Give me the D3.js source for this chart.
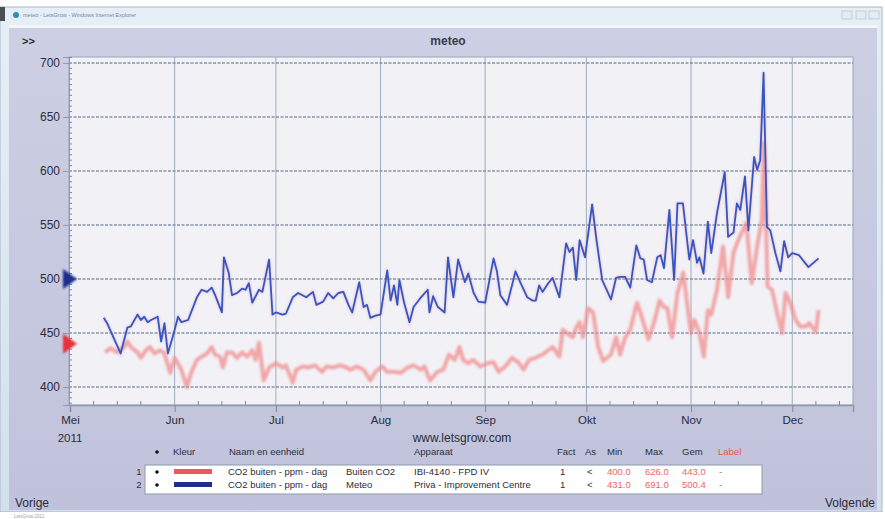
<!DOCTYPE html>
<html>
<head>
<meta charset="utf-8">
<script src="https://cdn.jsdelivr.net/npm/d3@7"></script>
<style>
	html, body { margin: 0; padding: 0; background: #ffffff; }
	svg { display: block; font-family: 'Liberation Sans', Arial, sans-serif; }
</style>
</head>
<body>
<svg id="chart" width="885" height="519"></svg>
<script>
// day offsets are counted from 1 May 2011
const startDate = new Date(2011, 4, 1);
const endDate = new Date(2011, 11, 19);

const monthLabels = ['Mei', 'Jun', 'Jul', 'Aug', 'Sep', 'Okt', 'Nov', 'Dec'];
const yTicks = [400, 450, 500, 550, 600, 650, 700];

// CO2 buiten - Buiten CO2 (red)
const redDay = [10.4, 12, 14, 16, 17, 18, 20, 21, 22.5, 23.7, 25, 26.7, 28, 29.7, 31, 33, 34.6, 36, 37.6, 39,
	40.6, 42, 43, 44.5, 45.3, 46.5, 48, 49.5, 51, 52.5, 54, 55, 56, 57.4, 59, 61, 63, 64, 66, 67,
	69, 70.6, 72.6, 74.7, 76, 78, 80, 82, 83, 85, 87, 89, 90.5, 92.5, 94, 96, 98, 100, 101.8, 104,
	105, 106.7, 108.8, 110.6, 112.3, 114, 115.4, 116.5, 118, 119.5, 121.6, 123.6, 125.5, 127, 129, 131, 132.8, 134.4, 136, 138,
	140, 141.7, 143, 145, 146, 148, 149, 150, 151, 152, 153.5, 155, 156.5, 158, 160.3, 161.8, 163, 164.5, 166, 168,
	169.5, 171.4, 173, 174.7, 176, 177, 178.4, 180, 181.7, 183, 184, 185, 186.5, 187.8, 189, 190, 191.7, 193.5, 195, 196.6,
	198, 200.4, 202, 203.6, 205, 205.6, 206.7, 208, 209.5, 211, 212, 213.4, 215, 216.4, 218, 219, 221, 221.8];
const redVal = [432, 436, 432, 437, 442, 437, 432, 427, 434, 437, 431, 434, 431, 413, 427, 416, 400, 414, 425, 428,
	431, 437, 430, 428, 418, 432, 432, 427, 432, 428, 434, 425, 441, 406, 418, 422, 418, 420, 404, 416,
	419, 418, 420, 414, 419, 418, 420, 418, 416, 419, 416, 406, 414, 419, 414, 414, 413, 418, 420, 416,
	419, 406, 414, 416, 430, 425, 437, 425, 422, 425, 419, 422, 423, 414, 419, 427, 423, 416, 425, 427,
	430, 434, 437, 428, 453, 448, 446, 455, 460, 446, 473, 469, 437, 424, 430, 446, 430, 446, 453, 478,
	464, 444, 459, 480, 474, 473, 446, 487, 506, 474, 450, 462, 450, 428, 471, 467, 490, 530, 483, 524,
	536, 552, 496, 530, 555, 626, 493, 490, 469, 450, 487, 478, 462, 456, 456, 459, 451, 471];

// CO2 buiten - Meteo (blue)
const blueDay = [10, 11, 13, 15, 16, 17, 18, 20, 21, 22, 23, 24, 26, 27, 28, 29, 30.6, 32, 33, 35,
	37.6, 39, 40.6, 42, 43, 45, 45.6, 47, 48, 49.5, 51, 52, 53, 54, 56, 57, 59, 60, 61, 63,
	64, 66, 67.6, 70, 72, 73, 75, 76.5, 78, 79.5, 81, 82.5, 83.6, 85.7, 87, 88, 89, 90.5, 92, 94,
	95, 96, 97, 97.6, 99, 100.6, 101.8, 104, 106, 106.5, 107.6, 109, 111, 112, 113.6, 115, 117, 118, 119.6, 121,
	123, 125.5, 126.5, 127.5, 129.5, 132, 133.4, 135.5, 137, 138, 139, 140, 141.7, 143, 145, 147, 148, 149, 150, 151,
	152.6, 154.7, 156, 157.7, 160.3, 161.8, 163, 164.5, 166, 167.8, 169, 170, 171, 172.4, 174, 175, 176, 177.6, 179, 180,
	181.6, 183.5, 184.6, 185.8, 186.5, 187.7, 189, 190, 191.7, 194, 195, 196.6, 197.6, 198.6, 200, 201, 202.7, 203.6, 204.5, 205.5,
	206.5, 207.5, 209, 210.5, 211.6, 212.8, 214, 216, 218.8, 221.8];
const blueVal = [464, 459, 445, 431, 443, 455, 456, 467, 462, 465, 460, 462, 465, 442, 459, 431, 448, 465, 460, 462,
	483, 490, 488, 492, 485, 469, 520, 506, 485, 487, 491, 490, 496, 478, 490, 488, 518, 467, 469, 467,
	468, 483, 487, 483, 488, 476, 479, 487, 482, 487, 488, 476, 469, 497, 474, 476, 464, 466, 467, 508,
	480, 494, 476, 499, 478, 460, 474, 483, 490, 469, 484, 474, 469, 520, 483, 518, 497, 505, 487, 479,
	478, 519, 507, 485, 476, 507, 497, 483, 480, 480, 494, 488, 496, 501, 483, 533, 525, 529, 499, 536,
	520, 569, 536, 499, 481, 501, 502, 502, 492, 531, 519, 518, 499, 497, 520, 522, 510, 564, 499, 570,
	570, 518, 536, 515, 520, 505, 553, 524, 561, 599, 539, 543, 570, 564, 595, 545, 613, 601, 610, 691,
	548, 545, 524, 507, 535, 520, 524, 522, 511, 519];

const legendHeader = ['Kleur', 'Naam en eenheid', 'Apparaat', 'Fact', 'As', 'Min', 'Max', 'Gem', 'Label'];
const seriesNames = ['CO2 buiten - ppm - dag', 'CO2 buiten - ppm - dag'];
const seriesLocations = ['Buiten CO2', 'Meteo'];
const seriesDevices = ['IBI-4140 - FPD IV', 'Priva - Improvement Centre'];
const seriesMarkers = [440, 500];

const colors = {
	panel: '#c6c9df',
	plot: '#f1f1f6',
	grid: '#7a8aa3',
	text: '#2b2d3a',
	red: '#f28d8d',
	redMark: '#e8303a',
	blue: '#3456c2',
	blueMark: '#1c2f8e'
};

const svg = d3.select('#chart');
const defs = svg.append('defs');

defs.append('filter').attr('id', 'soft')
	.append('feGaussianBlur').attr('stdDeviation', 0.9);

const titleGrad = defs.append('linearGradient').attr('id', 'titleGrad')
	.attr('x1', '0%').attr('x2', '0%').attr('y1', '0%').attr('y2', '100%');
titleGrad.append('stop').attr('offset', '0%').attr('stop-color', '#e6eff7');
titleGrad.append('stop').attr('offset', '100%').attr('stop-color', '#d2e0ec');

const panelGrad = defs.append('linearGradient').attr('id', 'panelGrad')
	.attr('x1', '0%').attr('x2', '0%').attr('y1', '0%').attr('y2', '100%');
panelGrad.append('stop').attr('offset', '0%').attr('stop-color', '#cdd0e4');
panelGrad.append('stop').attr('offset', '100%').attr('stop-color', '#bfc2da');

// window chrome
svg.append('rect').attr('x', 0).attr('y', 7).attr('width', 882).attr('height', 505)
	.attr('fill', 'url(#titleGrad)').attr('stroke', '#a9b6c4');
svg.append('rect').attr('x', 0).attr('y', 7).attr('width', 5).attr('height', 14).attr('fill', '#4a4f56');
svg.append('circle').attr('cx', 16).attr('cy', 15).attr('r', 3).attr('fill', '#2a8fb5');
svg.append('text').attr('x', 23).attr('y', 17).attr('font-size', 5.5).attr('fill', '#7a8798')
	.text('meteo - LetsGrow - Windows Internet Explorer');
[842, 856, 869].forEach(x => {
	svg.append('rect').attr('x', x).attr('y', 11).attr('width', 10).attr('height', 8)
		.attr('fill', '#e4ecf3').attr('stroke', '#c3ccd6');
});
svg.append('rect').attr('x', 9).attr('y', 25).attr('width', 868).attr('height', 3).attr('fill', '#f4f6fa');
svg.append('rect').attr('x', 9).attr('y', 28).attr('width', 868).attr('height', 482)
	.attr('fill', 'url(#panelGrad)');
svg.append('rect').attr('x', 0).attr('y', 512).attr('width', 885).attr('height', 7).attr('fill', '#ffffff');
svg.append('text').attr('x', 14).attr('y', 518).attr('font-size', 4.5).attr('fill', '#9aa0aa')
	.text('LetsGrow 2011');

svg.append('text').attr('x', 22).attr('y', 45).attr('font-size', 11).attr('font-weight', 'bold')
	.attr('fill', colors.text).text('>>');
svg.append('text').attr('x', 448).attr('y', 45).attr('text-anchor', 'middle')
	.attr('font-size', 12).attr('font-weight', 'bold').attr('fill', '#3a3c4c').text('meteo');

// plot
const plot = { left: 69, right: 853, top: 57, bottom: 405 };

const x = d3.scaleTime()
	.domain([startDate, endDate])
	.range([plot.left + 1, plot.right]);

const y = d3.scaleLinear()
	.domain([383.3, 705.5])
	.range([plot.bottom, plot.top]);

const dayToDate = d => new Date(startDate.getTime() + d * 864e5);

svg.append('rect')
	.attr('x', plot.left).attr('y', plot.top)
	.attr('width', plot.right - plot.left).attr('height', plot.bottom - plot.top)
	.attr('fill', colors.plot).attr('stroke', '#9aa6bb');

const grid = svg.append('g').attr('class', 'grid');

const monthStarts = d3.timeMonth.range(startDate, endDate);

grid.selectAll('.vgrid')
	.data(monthStarts.slice(1))
	.enter()
	.append('line')
	.attr('class', 'vgrid')
	.attr('x1', d => x(d)).attr('x2', d => x(d))
	.attr('y1', plot.top).attr('y2', plot.bottom)
	.attr('stroke', '#9fadc0')
	.attr('stroke-width', 1);

grid.selectAll('.hgrid')
	.data(yTicks)
	.enter()
	.append('line')
	.attr('class', 'hgrid')
	.attr('x1', plot.left).attr('x2', plot.right)
	.attr('y1', d => y(d)).attr('y2', d => y(d))
	.attr('stroke', colors.grid)
	.attr('stroke-width', 1.4)
	.attr('stroke-dasharray', '3,1.5')
	.attr('opacity', 0.9);

// y axis
const yAxis = d3.axisLeft(y)
	.tickValues(yTicks)
	.tickSize(6)
	.tickPadding(3);

const Yaxis = svg.append('g')
	.attr('transform', `translate(${plot.left},0)`)
	.call(yAxis);

Yaxis.select('.domain').attr('stroke', '#8d99ae');
Yaxis.selectAll('.tick line').attr('stroke', '#8d99ae');
Yaxis.selectAll('.tick text')
	.attr('fill', colors.text)
	.attr('font-size', 12)
	.attr('font-family', "'Liberation Sans', Arial, sans-serif");

const minorY = d3.range(385, 706, 5).filter(v => v % 50 !== 0);
svg.append('g').selectAll('line')
	.data(minorY)
	.enter()
	.append('line')
	.attr('x1', plot.left).attr('x2', plot.left + 3)
	.attr('y1', d => y(d)).attr('y2', d => y(d))
	.attr('stroke', '#7d8aa0');

// x axis
const xAxis = d3.axisBottom(x)
	.tickValues(monthStarts)
	.tickSize(7)
	.tickPadding(4)
	.tickFormat((d, i) => monthLabels[i]);

const Xaxis = svg.append('g')
	.attr('transform', `translate(0,${plot.bottom})`)
	.call(xAxis);

Xaxis.select('.domain').attr('stroke', '#8d99ae').attr('stroke-width', 1.5);
Xaxis.selectAll('.tick line').attr('stroke', '#7d8aa0');
Xaxis.selectAll('.tick text')
	.attr('fill', colors.text)
	.attr('font-size', 11.5)
	.attr('font-family', "'Liberation Sans', Arial, sans-serif");

const minorX = [];
monthStarts.forEach(m => [7, 14, 21].forEach(k => {
	const d = d3.timeDay.offset(m, k);
	if (d < endDate) minorX.push(d);
}));
svg.append('g').selectAll('line')
	.data(minorX)
	.enter()
	.append('line')
	.attr('x1', d => x(d)).attr('x2', d => x(d))
	.attr('y1', plot.bottom).attr('y2', plot.bottom - 4)
	.attr('stroke', '#7d8aa0');

svg.append('text').attr('x', x(startDate)).attr('y', 442).attr('text-anchor', 'middle')
	.attr('font-size', 11.5).attr('fill', colors.text).text('2011');
svg.append('text').attr('x', 462).attr('y', 442).attr('text-anchor', 'middle')
	.attr('font-size', 12).attr('fill', colors.text).text('www.letsgrow.com');

// lines
const line = d3.line()
	.x(d => x(dayToDate(d[0])))
	.y(d => y(d[1]));

const redData = d3.zip(redDay, redVal);
const blueData = d3.zip(blueDay, blueVal);

const lines = svg.append('g').attr('class', 'linesGroup');

lines.append('path')
	.datum(redData)
	.attr('fill', 'none')
	.attr('stroke', colors.red)
	.attr('stroke-width', 4)
	.attr('stroke-linejoin', 'round')
	.attr('opacity', 0.75)
	.attr('filter', 'url(#soft)')
	.attr('d', line);

lines.append('path')
	.datum(blueData)
	.attr('fill', 'none')
	.attr('stroke', '#e68aa6')
	.attr('stroke-width', 3)
	.attr('opacity', 0.35)
	.attr('filter', 'url(#soft)')
	.attr('d', line);

lines.append('path')
	.datum(blueData)
	.attr('fill', 'none')
	.attr('stroke', colors.blue)
	.attr('stroke-width', 1.8)
	.attr('stroke-linejoin', 'round')
	.attr('d', line);

// current value markers on the left axis
const markerColors = [colors.redMark, colors.blueMark];
svg.append('g').selectAll('path')
	.data(seriesMarkers)
	.enter()
	.append('path')
	.attr('d', d => `M${plot.left - 6},${y(d) - 10}L${plot.left + 8},${y(d)}L${plot.left - 6},${y(d) + 10}Z`)
	.attr('fill', (d, i) => markerColors[i])
	.attr('filter', 'url(#soft)');

// legend table
const legend = svg.append('g').attr('class', 'legend').attr('font-size', 9.5).attr('fill', colors.text);
const headerX = [173, 229, 414, 557, 585, 607, 645, 682, 718];

legend.append('circle').attr('cx', 157).attr('cy', 452).attr('r', 1.8).attr('fill', '#111');
legend.selectAll('.hdr')
	.data(legendHeader)
	.enter()
	.append('text')
	.attr('class', 'hdr')
	.attr('x', (d, i) => headerX[i])
	.attr('y', 455)
	.attr('fill', (d, i) => i === legendHeader.length - 1 ? '#e8584f' : colors.text)
	.text(d => d);

legend.append('rect').attr('x', 145).attr('y', 465).attr('width', 617).attr('height', 29)
	.attr('fill', '#ffffff').attr('stroke', '#8d99ae');

const fmt = d3.format('.1f');
const stats = [redVal, blueVal].map(v => [d3.min(v), d3.max(v), d3.mean(v)].map(fmt));
const swatch = [colors.redMark, colors.blueMark];

seriesNames.forEach((name, i) => {
	const ry = 475 + i * 13;
	const row = legend.append('g');
	row.append('text').attr('x', 139).attr('y', ry).attr('text-anchor', 'middle').text(i + 1);
	row.append('circle').attr('cx', 157).attr('cy', ry - 3).attr('r', 1.8).attr('fill', '#111');
	row.append('rect').attr('x', 174).attr('y', ry - 6).attr('width', 38).attr('height', 5)
		.attr('fill', swatch[i]).attr('opacity', i === 0 ? 0.8 : 1);
	row.append('text').attr('x', 228).attr('y', ry).text(name);
	row.append('text').attr('x', 346).attr('y', ry).text(seriesLocations[i]);
	row.append('text').attr('x', 414).attr('y', ry).text(seriesDevices[i]);
	row.append('text').attr('x', 560).attr('y', ry).text('1');
	row.append('text').attr('x', 587).attr('y', ry).text('<');
	row.append('text').attr('x', 607).attr('y', ry).attr('fill', '#f0665e').text(stats[i][0]);
	row.append('text').attr('x', 645).attr('y', ry).attr('fill', '#f0665e').text(stats[i][1]);
	row.append('text').attr('x', 682).attr('y', ry).attr('fill', '#f0665e').text(stats[i][2]);
	row.append('text').attr('x', 719).attr('y', ry).attr('fill', '#3b8be0').text('-');
});

svg.append('text').attr('x', 15).attr('y', 507).attr('font-size', 12).attr('fill', colors.text).text('Vorige');
svg.append('text').attr('x', 875).attr('y', 507).attr('text-anchor', 'end')
	.attr('font-size', 12).attr('fill', colors.text).text('Volgende');
</script>
</body>
</html>
